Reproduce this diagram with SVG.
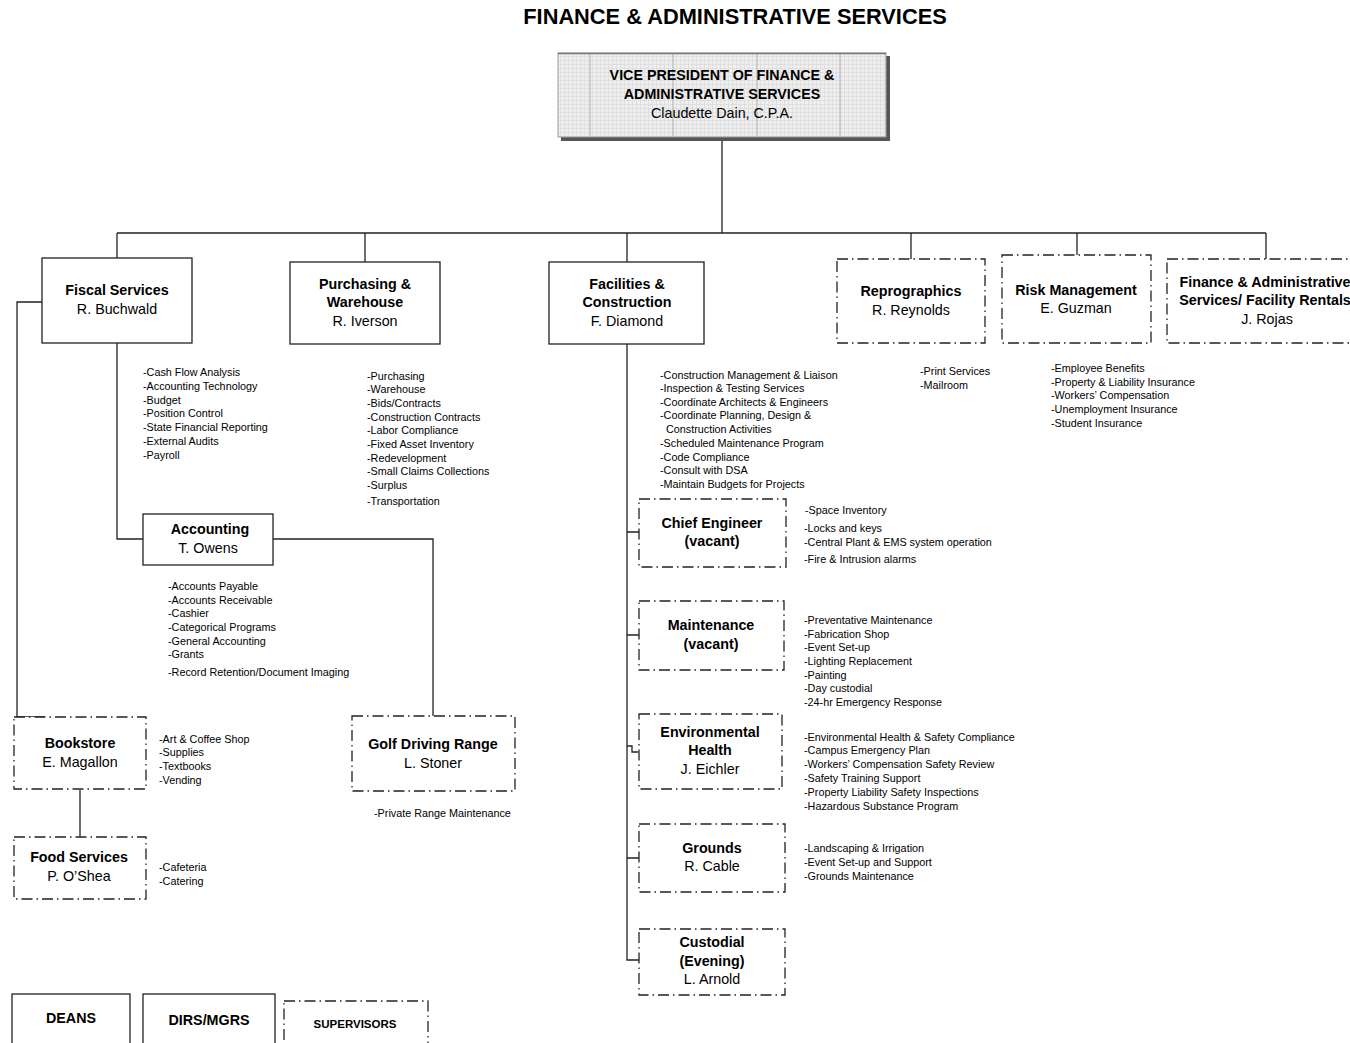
<svg xmlns="http://www.w3.org/2000/svg" width="1350" height="1043" viewBox="0 0 1350 1043">
<defs>
<pattern id="grid" width="4" height="4" patternUnits="userSpaceOnUse">
<rect width="4" height="4" fill="#efefef"/>
<path d="M0 0.5H4M0.5 0V4" stroke="#dcdcdc" stroke-width="0.8"/>
</pattern>
</defs>
<style>
text{font-family:"Liberation Sans",Arial,sans-serif;fill:#000}
.t{font-size:21.8px;font-weight:bold}
.h{font-size:14.3px;font-weight:bold;text-anchor:middle}
.n{font-size:14.3px;text-anchor:middle}
.b{font-size:10.8px}
.s{fill:#fff;stroke:#222;stroke-width:1.3}
.d{fill:#fff;stroke:#222;stroke-width:1.3;stroke-dasharray:11 4 1.5 4}
.c{fill:none;stroke:#222;stroke-width:1.3}
</style>
<rect width="1350" height="1043" fill="#fff"/>
<text class="t" x="735" y="24" text-anchor="middle">FINANCE &amp; ADMINISTRATIVE SERVICES</text>

<g id="connectors">
<path class="c" d="M722 138V233M117 233H1266M117 233V258M365 233V262M627 233V262M911 233V259M1077 233V256M1266 233V259"/>
<path class="c" d="M42 302H17V717H45"/>
<path class="c" d="M117 343V539H143"/>
<path class="c" d="M273 539H433V716"/>
<path class="c" d="M80 790V837"/>
<path class="c" d="M627 344V960H639"/>
<path class="c" d="M627 532H639M627 635H639M627 746H632V752H638M627 858H639"/>
</g>

<g id="vp">
<rect x="561" y="56" width="329" height="85" fill="#555"/>
<rect x="558" y="53" width="328" height="84" fill="url(#grid)" stroke="#999" stroke-width="1"/>
<path d="M590 54V136M673 54V136M757 54V136M840 54V136" stroke="#bbb" stroke-width="1.2"/>
<path d="M558 53.5H886" stroke="#777" stroke-width="1.5"/>
<text class="h" x="722" y="80">VICE PRESIDENT OF FINANCE &amp;</text>
<text class="h" x="722" y="99">ADMINISTRATIVE SERVICES</text>
<text class="n" x="722" y="118">Claudette Dain, C.P.A.</text>
</g>

<g id="fiscal">
<rect class="s" x="42" y="258" width="150" height="85"/>
<text class="h" x="117" y="295">Fiscal Services</text>
<text class="n" x="117" y="314">R. Buchwald</text>
<text class="b" x="143" y="376">-Cash Flow Analysis</text>
<text class="b" x="143" y="390">-Accounting Technology</text>
<text class="b" x="143" y="404">-Budget</text>
<text class="b" x="143" y="417">-Position Control</text>
<text class="b" x="143" y="431">-State Financial Reporting</text>
<text class="b" x="143" y="445">-External Audits</text>
<text class="b" x="143" y="459">-Payroll</text>
</g>

<g id="purchasing">
<rect class="s" x="290" y="262" width="150" height="82"/>
<text class="h" x="365" y="289">Purchasing &amp;</text>
<text class="h" x="365" y="307">Warehouse</text>
<text class="n" x="365" y="326">R. Iverson</text>
<text class="b" x="367" y="380">-Purchasing</text>
<text class="b" x="367" y="393">-Warehouse</text>
<text class="b" x="367" y="407">-Bids/Contracts</text>
<text class="b" x="367" y="421">-Construction Contracts</text>
<text class="b" x="367" y="434">-Labor Compliance</text>
<text class="b" x="367" y="448">-Fixed Asset Inventory</text>
<text class="b" x="367" y="462">-Redevelopment</text>
<text class="b" x="367" y="475">-Small Claims Collections</text>
<text class="b" x="367" y="489">-Surplus</text>
<text class="b" x="367" y="505">-Transportation</text>
</g>

<g id="facilities">
<rect class="s" x="549" y="262" width="155" height="82"/>
<text class="h" x="627" y="289">Facilities &amp;</text>
<text class="h" x="627" y="307">Construction</text>
<text class="n" x="627" y="326">F. Diamond</text>
<text class="b" x="660" y="379">-Construction Management &amp; Liaison</text>
<text class="b" x="660" y="392">-Inspection &amp; Testing Services</text>
<text class="b" x="660" y="406">-Coordinate Architects &amp; Engineers</text>
<text class="b" x="660" y="419">-Coordinate Planning, Design &amp;</text>
<text class="b" x="666" y="433">Construction Activities</text>
<text class="b" x="660" y="447">-Scheduled Maintenance Program</text>
<text class="b" x="660" y="461">-Code Compliance</text>
<text class="b" x="660" y="474">-Consult with DSA</text>
<text class="b" x="660" y="488">-Maintain Budgets for Projects</text>
</g>

<g id="reprographics">
<rect class="d" x="837" y="259" width="148" height="84"/>
<text class="h" x="911" y="296">Reprographics</text>
<text class="n" x="911" y="315">R. Reynolds</text>
<text class="b" x="920" y="375">-Print Services</text>
<text class="b" x="920" y="389">-Mailroom</text>
</g>

<g id="risk">
<rect class="d" x="1002" y="255" width="149" height="88"/>
<text class="h" x="1076" y="295">Risk Management</text>
<text class="n" x="1076" y="313">E. Guzman</text>
<text class="b" x="1051" y="372">-Employee Benefits</text>
<text class="b" x="1051" y="386">-Property &amp; Liability Insurance</text>
<text class="b" x="1051" y="399">-Workers’ Compensation</text>
<text class="b" x="1051" y="413">-Unemployment Insurance</text>
<text class="b" x="1051" y="427">-Student Insurance</text>
</g>

<g id="rentals">
<rect class="d" x="1167" y="259" width="200" height="84"/>
<text class="h" x="1265" y="287">Finance &amp; Administrative</text>
<text class="h" x="1265" y="305">Services/ Facility Rentals</text>
<text class="n" x="1267" y="324">J. Rojas</text>
</g>

<g id="accounting">
<rect class="s" x="143" y="514" width="130" height="51"/>
<text class="h" x="210" y="534">Accounting</text>
<text class="n" x="208" y="553">T. Owens</text>
<text class="b" x="168" y="590">-Accounts Payable</text>
<text class="b" x="168" y="604">-Accounts Receivable</text>
<text class="b" x="168" y="617">-Cashier</text>
<text class="b" x="168" y="631">-Categorical Programs</text>
<text class="b" x="168" y="645">-General Accounting</text>
<text class="b" x="168" y="658">-Grants</text>
<text class="b" x="168" y="676">-Record Retention/Document Imaging</text>
</g>

<g id="bookstore">
<rect class="d" x="14" y="717" width="132" height="72"/>
<text class="h" x="80" y="748">Bookstore</text>
<text class="n" x="80" y="767">E. Magallon</text>
<text class="b" x="159" y="743">-Art &amp; Coffee Shop</text>
<text class="b" x="159" y="756">-Supplies</text>
<text class="b" x="159" y="770">-Textbooks</text>
<text class="b" x="159" y="784">-Vending</text>
</g>

<g id="food">
<rect class="d" x="14" y="837" width="132" height="62"/>
<text class="h" x="79" y="862">Food Services</text>
<text class="n" x="79" y="881">P. O’Shea</text>
<text class="b" x="159" y="871">-Cafeteria</text>
<text class="b" x="159" y="885">-Catering</text>
</g>

<g id="golf">
<rect class="d" x="352" y="716" width="163" height="75"/>
<text class="h" x="433" y="749">Golf Driving Range</text>
<text class="n" x="433" y="768">L. Stoner</text>
<text class="b" x="374" y="817">-Private Range Maintenance</text>
</g>

<g id="chief">
<rect class="d" x="639" y="499" width="147" height="68"/>
<text class="h" x="712" y="528">Chief Engineer</text>
<text class="h" x="712" y="546">(vacant)</text>
<text class="b" x="805" y="514">-Space Inventory</text>
<text class="b" x="804" y="532">-Locks and keys</text>
<text class="b" x="804" y="546">-Central Plant &amp; EMS system operation</text>
<text class="b" x="804" y="563">-Fire &amp; Intrusion alarms</text>
</g>

<g id="maintenance">
<rect class="d" x="639" y="601" width="145" height="69"/>
<text class="h" x="711" y="630">Maintenance</text>
<text class="h" x="711" y="649">(vacant)</text>
<text class="b" x="804" y="624">-Preventative Maintenance</text>
<text class="b" x="804" y="638">-Fabrication Shop</text>
<text class="b" x="804" y="651">-Event Set-up</text>
<text class="b" x="804" y="665">-Lighting Replacement</text>
<text class="b" x="804" y="679">-Painting</text>
<text class="b" x="804" y="692">-Day custodial</text>
<text class="b" x="804" y="706">-24-hr Emergency Response</text>
</g>

<g id="environmental">
<rect class="d" x="639" y="714" width="143" height="75"/>
<text class="h" x="710" y="737">Environmental</text>
<text class="h" x="710" y="755">Health</text>
<text class="n" x="710" y="774">J. Eichler</text>
<text class="b" x="804" y="741">-Environmental Health &amp; Safety Compliance</text>
<text class="b" x="804" y="754">-Campus Emergency Plan</text>
<text class="b" x="804" y="768">-Workers’ Compensation Safety Review</text>
<text class="b" x="804" y="782">-Safety Training Support</text>
<text class="b" x="804" y="796">-Property Liability Safety Inspections</text>
<text class="b" x="804" y="810">-Hazardous Substance Program</text>
</g>

<g id="grounds">
<rect class="d" x="639" y="824" width="146" height="68"/>
<text class="h" x="712" y="853">Grounds</text>
<text class="n" x="712" y="871">R. Cable</text>
<text class="b" x="804" y="852">-Landscaping &amp; Irrigation</text>
<text class="b" x="804" y="866">-Event Set-up and Support</text>
<text class="b" x="804" y="880">-Grounds Maintenance</text>
</g>

<g id="custodial">
<rect class="d" x="639" y="929" width="146" height="66"/>
<text class="h" x="712" y="947">Custodial</text>
<text class="h" x="712" y="966">(Evening)</text>
<text class="n" x="712" y="984">L. Arnold</text>
</g>

<g id="legend">
<g id="legend-deans">
<rect class="s" x="12" y="994" width="118" height="60"/>
<text class="h" x="71" y="1023">DEANS</text>
</g>
<g id="legend-dirs">
<rect class="s" x="143" y="994" width="132" height="60"/>
<text class="h" x="209" y="1025">DIRS/MGRS</text>
</g>
<g id="legend-supervisors">
<rect class="d" x="284" y="1001" width="144" height="60"/>
<text class="h" x="355" y="1028" style="font-size:11.5px">SUPERVISORS</text>
</g>
</g>
</svg>
